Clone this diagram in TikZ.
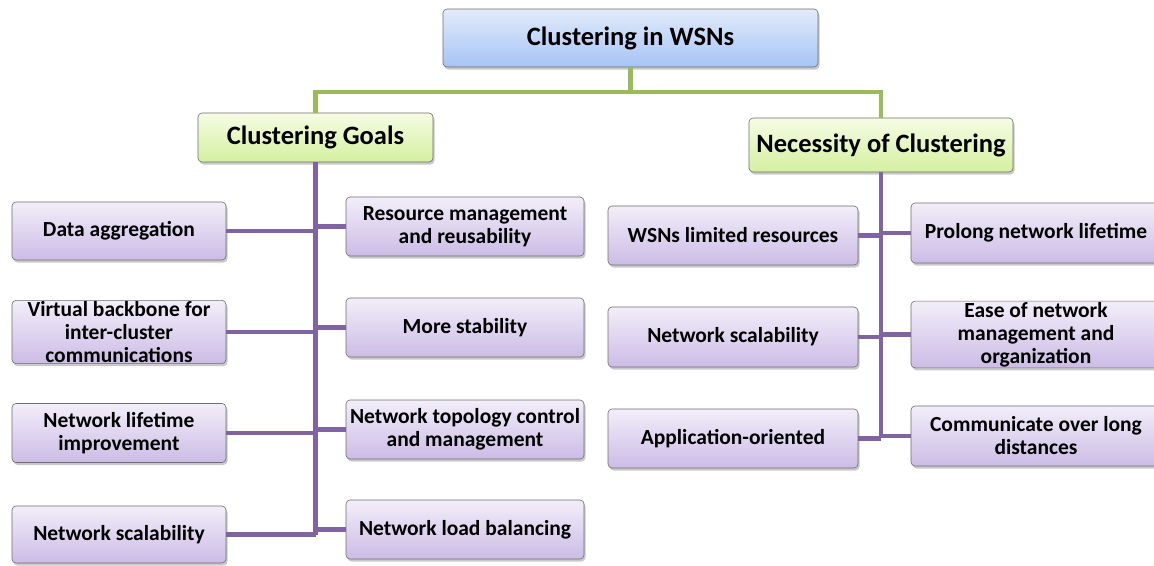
\documentclass[tikz,border=0pt]{standalone}
\usepackage{fontspec}
\setmainfont{Carlito}
\usetikzlibrary{shadows}

\definecolor{lineGreen}{RGB}{155,187,89}
\definecolor{linePurple}{RGB}{128,100,162}
\definecolor{edgeGray}{RGB}{110,110,110}

\tikzset{
  box/.style={draw=edgeGray, line width=0.6pt, rounded corners=4pt,
    align=center, inner sep=1pt, text=black,
    drop shadow={shadow xshift=1.5pt, shadow yshift=-2.5pt, opacity=0.35, fill=black!60}},
  rootbox/.style={box, top color={rgb,255:red,226;green,235;blue,252},
    bottom color={rgb,255:red,166;green,196;blue,244},
    font=\bfseries\fontsize{26.5}{30}\selectfont},
  groupbox/.style={box, top color={rgb,255:red,246;green,252;blue,228},
    bottom color={rgb,255:red,212;green,240;blue,160},
    font=\bfseries\fontsize{26.5}{30}\selectfont},
  leafbox/.style={box, top color={rgb,255:red,242;green,238;blue,249},
    bottom color={rgb,255:red,204;green,188;blue,230},
    font=\bfseries\fontsize{21.5}{23}\selectfont},
  greenline/.style={draw=lineGreen, line width=4.5pt},
  purpleline/.style={draw=linePurple, line width=4.5pt},
}

\begin{document}
\begin{tikzpicture}[x=1pt, y=-1pt]
\useasboundingbox[fill=white] (0,0) rectangle (1154,565);

% root and the two groups
\node[rootbox, minimum width=375pt, minimum height=58pt] (root) at (630.5,38) {Clustering in WSNs};
\node[groupbox, minimum width=235pt, minimum height=49pt] (goals) at (315.5,137.5) {Clustering Goals};
\node[groupbox, minimum width=264pt, minimum height=54pt] (need) at (881,145) {Necessity of Clustering};

% joints of the trunks
\coordinate (join) at (630.5,92);
\coordinate (gEnd) at (315.5,535);
\coordinate (nEnd) at (881,438);

% clustering goals, outer column
\node[leafbox, minimum width=214pt, minimum height=58pt] (g1) at (119,231) {Data aggregation};
\node[leafbox, minimum width=214pt, minimum height=60pt] (g2) at (119,332) {Virtual backbone for\\inter-cluster\\communications};
\node[leafbox, minimum width=214pt, minimum height=59pt] (g3) at (119,433) {Network lifetime\\improvement};
\node[leafbox, minimum width=214pt, minimum height=57pt] (g4) at (119,534.5) {Network scalability};

% clustering goals, inner column
\node[leafbox, minimum width=238pt, minimum height=59pt] (g5) at (465,226.5) {Resource management\\and reusability};
\node[leafbox, minimum width=238pt, minimum height=59pt] (g6) at (465,327.5) {More stability};
\node[leafbox, minimum width=238pt, minimum height=59pt] (g7) at (465,429.5) {Network topology control\\and management};
\node[leafbox, minimum width=238pt, minimum height=59pt] (g8) at (465,529.5) {Network load balancing};

% necessity of clustering, left column
\node[leafbox, minimum width=250pt, minimum height=59pt] (n1) at (733,235.5) {WSNs limited resources};
\node[leafbox, minimum width=250pt, minimum height=60pt] (n2) at (733,337) {Network scalability};
\node[leafbox, minimum width=250pt, minimum height=59pt] (n3) at (733,438.5) {Application-oriented};

% necessity of clustering, right column
\node[leafbox, minimum width=250pt, minimum height=60pt] (n4) at (1036,233) {Prolong network lifetime};
\node[leafbox, minimum width=250pt, minimum height=59pt] (n5) at (1036,334.5) {Ease of network\\management and\\organization};
\node[leafbox, minimum width=250pt, minimum height=60pt] (n6) at (1036,436) {Communicate over long\\distances};

% green connectors
\draw[greenline] (root.south) -- (join);
\draw[greenline] (join) -| (goals.north);
\draw[greenline] (join) -| (need.north);

% purple trunks and branches
\draw[purpleline] (goals.south) -- (gEnd);
\foreach \b in {g1,g2,g3,g4}
  \draw[purpleline] (\b.east) -- (\b.east -| gEnd);
\foreach \b in {g5,g6,g7,g8}
  \draw[purpleline] (\b.west) -- (\b.west -| gEnd);

\draw[purpleline] (need.south) -- (nEnd);
\foreach \b in {n1,n2,n3}
  \draw[purpleline] (\b.east) -- (\b.east -| nEnd);
\foreach \b in {n4,n5,n6}
  \draw[purpleline] (\b.west) -- (\b.west -| nEnd);
\end{tikzpicture}
\end{document}
